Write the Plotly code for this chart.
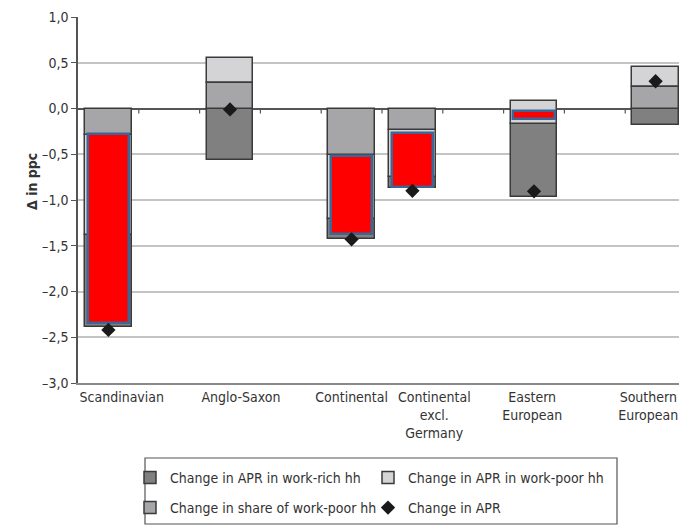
import plotly.graph_objects as go

# ---- data ----
categories = ["Scandinavian", "Anglo-Saxon", "Continental",
              "Continental<br>excl.<br>Germany", "Eastern<br>European", "Southern<br>European"]
slot_index = [0, 2, 4, 5, 7, 9]   # category slots on a 10-slot axis

# segment bounds, in percentage points
share_lo = [-0.29, 0.0, -0.51, -0.24, None, 0.0]
share_hi = [0.0, 0.276, 0.0, 0.0, None, 0.24]
poor_lo = [-1.385, 0.276, -1.21, -0.75, -0.167, 0.24]
poor_hi = [-0.29, 0.553, -0.51, -0.24, 0.087, 0.458]
rich_lo = [-2.385, -0.56, -1.43, -0.87, -0.97, -0.185]
rich_hi = [-1.385, 0.0, -1.21, -0.75, -0.167, 0.0]
apr_change = [-2.42, -0.01, -1.43, -0.90, -0.905, 0.298]
highlight_lo = [-2.34, None, -1.37, -0.86, -0.12, None]
highlight_hi = [-0.28, None, -0.52, -0.27, -0.03, None]

y_tick_vals = [1.0, 0.5, 0.0, -0.5, -1.0, -1.5, -2.0, -2.5, -3.0]
y_tick_text = ["1,0", "0,5", "0,0", "–0,5", "–1,0", "–1,5", "–2,0", "–2,5", "–3,0"]
label_pos = [0.22, 2.18, 4.0, 5.36, 6.97, 8.88]

FONT = "Liberation Sans Narrow, DejaVu Sans Condensed, Arial Narrow, sans-serif"
TXT = "#333333"
EDGE = "#3a3a3a"
W, H = 687, 527
OFF = 8  # page body margin of the html page

# target plot box in page pixels
PL, PR, PT, PB = 78, 686, 17, 383


def heights(lo, hi):
    return [None if (a is None or b is None) else b - a for a, b in zip(lo, hi)]


fig = go.Figure()
bar_w = 0.77
fig.add_trace(go.Bar(x=slot_index, y=heights(rich_lo, rich_hi), base=rich_lo, width=bar_w,
                     name="Change in APR in work-rich hh", legend="legend",
                     marker=dict(color="#808080", line=dict(color=EDGE, width=1.5)),
                     hoverinfo="skip"))
fig.add_trace(go.Bar(x=slot_index, y=heights(poor_lo, poor_hi), base=poor_lo, width=bar_w,
                     name="Change in APR in work-poor hh", legend="legend",
                     marker=dict(color="#d4d4d6", line=dict(color=EDGE, width=1.5)),
                     hoverinfo="skip"))
fig.add_trace(go.Bar(x=slot_index, y=heights(share_lo, share_hi), base=share_lo, width=bar_w,
                     name="Change in share of work-poor hh", legend="legend2",
                     marker=dict(color="#a6a6a8", line=dict(color=EDGE, width=1.5)),
                     hoverinfo="skip"))
fig.add_trace(go.Bar(x=slot_index, y=heights(highlight_lo, highlight_hi), base=highlight_lo,
                     width=0.68, showlegend=False,
                     marker=dict(color="#ff0000", line=dict(color="#3d6595", width=2.5)),
                     hoverinfo="skip"))
fig.add_trace(go.Scatter(x=slot_index, y=apr_change, mode="markers",
                         name="Change in APR", legend="legend2",
                         marker=dict(symbol="diamond", size=11, color="#1a1a1a"),
                         hoverinfo="skip"))

pw, ph = PR - PL, PB - PT

# small category tick marks on the zero line
shapes = []
for k in range(10):
    shapes.append(dict(type="line", xref="x", yref="y", ysizemode="pixel", yanchor=0,
                       x0=k + 0.5, x1=k + 0.5, y0=0, y1=-5,
                       line=dict(color="#555555", width=1.2)))
# legend frame
shapes.append(dict(type="rect", xref="paper", yref="paper",
                   x0=(145 - PL) / pw, x1=(617 - PL) / pw,
                   y0=(PB - 458) / ph, y1=(PB - 524) / ph,
                   line=dict(color="#555555", width=1.2), fillcolor="rgba(0,0,0,0)"))

legend_common = dict(orientation="h", xref="container", yref="container",
                     xanchor="left", yanchor="middle", entrywidth=193, entrywidthmode="pixels",
                     bgcolor="rgba(0,0,0,0)", borderwidth=0, font=dict(size=14, color=TXT))

fig.update_layout(
    width=W, height=H,
    margin=dict(l=PL - OFF, r=W - (PR - OFF), t=PT - OFF, b=H - (PB - OFF), autoexpand=False),
    paper_bgcolor="white", plot_bgcolor="white",
    barmode="overlay", bargap=0,
    font=dict(family=FONT, size=14, color=TXT),
    shapes=shapes,
    legend=dict(x=(130 - OFF) / W, y=1 - (478 - OFF) / H, **legend_common),
    legend2=dict(x=(130 - OFF) / W, y=1 - (508 - OFF) / H, **legend_common),
    annotations=[dict(text="<b>Δ in ppc</b>", textangle=-90, xref="paper", yref="paper",
                      x=(22 - PL) / pw, y=(PB - 182) / ph, showarrow=False,
                      font=dict(size=14, color=TXT))],
)
fig.update_xaxes(range=[-0.5, 9.5], tickvals=label_pos, ticktext=categories, ticks="",
                 showgrid=False, zeroline=False, showline=True, linecolor="#8a8a8a",
                 linewidth=1.5, tickfont=dict(size=14, color=TXT), fixedrange=True,
                 automargin=False)
fig.update_yaxes(range=[-3, 1], tickvals=y_tick_vals, ticktext=y_tick_text,
                 ticks="outside", ticklen=5, tickcolor="#555555", tickwidth=1.2,
                 showline=True, linecolor="#555555", linewidth=1.5,
                 showgrid=True, gridcolor="#c4c4c4", gridwidth=1.5,
                 zeroline=True, zerolinecolor="#555555", zerolinewidth=1.5,
                 tickfont=dict(size=14, color=TXT), fixedrange=True, automargin=False)

fig.write_html("out.html")
